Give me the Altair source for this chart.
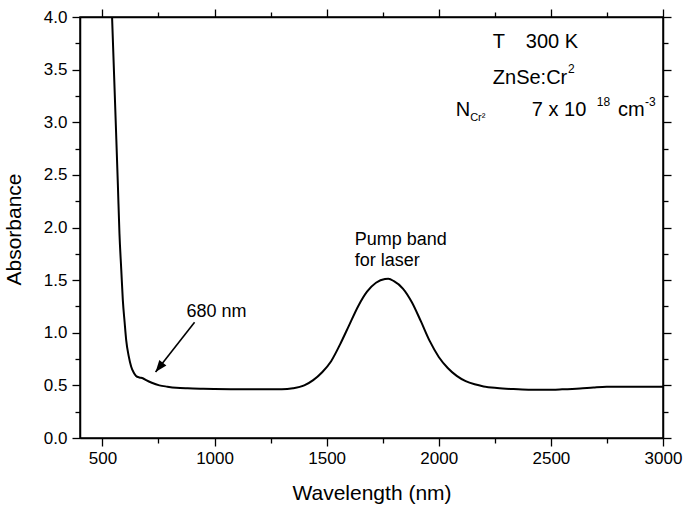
import altair as alt
import pandas as pd

# ---- data ----
wavelength = [543, 552, 561, 569, 576, 584, 591, 599, 606, 617, 628, 640, 650, 665, 680,
              695, 720, 754, 790, 829, 880, 950, 1000, 1100, 1200, 1300, 1350, 1400, 1440,
              1480, 1520, 1560, 1600, 1640, 1680, 1720, 1760, 1775, 1800, 1840, 1880, 1920,
              1960, 2000, 2040, 2080, 2120, 2160, 2200, 2260, 2330, 2400, 2481, 2550, 2630,
              2690, 2749, 2850, 2950, 3000]
absorbance = [4.0, 3.45, 2.9, 2.4, 1.94, 1.6, 1.31, 1.1, 0.93, 0.78, 0.68, 0.62, 0.59, 0.575, 0.568,
              0.55, 0.525, 0.50, 0.488, 0.478, 0.472, 0.468, 0.466, 0.463, 0.462, 0.462, 0.472, 0.50, 0.55,
              0.625, 0.73, 0.89, 1.07, 1.25, 1.39, 1.475, 1.51, 1.512, 1.49, 1.42, 1.29, 1.11,
              0.92, 0.77, 0.665, 0.59, 0.54, 0.51, 0.49, 0.475, 0.465, 0.459, 0.458, 0.462, 0.47,
              0.48, 0.487, 0.488, 0.488, 0.488]

x_ticks = [500, 750, 1000, 1250, 1500, 1750, 2000, 2250, 2500, 2750, 3000]
y_ticks = [0.0, 0.25, 0.5, 0.75, 1.0, 1.25, 1.5, 1.75, 2.0, 2.25, 2.5, 2.75, 3.0, 3.25, 3.5, 3.75, 4.0]

ann_text = ["T", "300 K", "ZnSe:Cr", "2", "N", "Cr²", "7 x 10", "18", "cm", "-3",
            "Pump band", "for laser", "680 nm"]
ann_x = [2241, 2388, 2241, 2576, 2076, 2140, 2415, 2705, 2799, 2920, 1625, 1625, 875]
ann_y = [3.705, 3.705, 3.363, 3.468, 3.059, 3.012, 3.059, 3.154, 3.059, 3.154, 1.834, 1.634, 1.15]
ann_size = [20, 20, 20, 12, 20, 11, 20, 12, 20, 12, 18, 18, 18]

arrow_tail = (911, 1.10)
arrow_tip = (737, 0.627)

FONT = "Liberation Sans"

df = pd.DataFrame({"wl": wavelength, "A": absorbance})
ann = pd.DataFrame({"text": ann_text, "x": ann_x, "y": ann_y, "size": ann_size})
arr = pd.DataFrame({"x": [arrow_tail[0]], "y": [arrow_tail[1]],
                    "x2": [arrow_tip[0]], "y2": [arrow_tip[1]]})

xscale = alt.Scale(domain=[400, 3000], nice=False, zero=False)
yscale = alt.Scale(domain=[0, 4], nice=False, zero=True)

x_tick_size = {"condition": {"test": "datum.value % 500 === 0", "value": 8}, "value": 5}
y_tick_size = {"condition": {"test": "(datum.value * 2) % 1 === 0", "value": 8}, "value": 5}

x_axis = alt.Axis(values=x_ticks, tickSize=x_tick_size,
                  labelExpr="datum.value % 500 === 0 ? datum.label : ''",
                  format="d", title="Wavelength (nm)", titleFontSize=21,
                  titleFontWeight="normal", titleY=55, titleBaseline="middle",
                  labelFontSize=17, labelPadding=4, grid=False,
                  domainColor="black", domainWidth=1.5, tickColor="black", tickWidth=1.3,
                  labelColor="black", titleColor="black", labelFont=FONT, titleFont=FONT,
                  labelFlush=False, labelOverlap=False)
y_axis = alt.Axis(values=y_ticks, tickSize=y_tick_size,
                  labelExpr="(datum.value * 2) % 1 === 0 ? format(datum.value, '.1f') : ''",
                  title="Absorbance", titleFontSize=21, titleFontWeight="normal",
                  titleX=-66, titleY=212, titleAngle=-90, titleBaseline="middle",
                  labelFontSize=17, labelPadding=5, grid=False,
                  domainColor="black", domainWidth=1.5, tickColor="black", tickWidth=1.3,
                  labelColor="black", titleColor="black", labelFont=FONT, titleFont=FONT,
                  labelFlush=False, labelOverlap=False)

x_axis_top = alt.Axis(orient="top", values=x_ticks, tickSize=x_tick_size, labels=False,
                      title=None, grid=False, domainColor="black", domainWidth=1.5,
                      tickColor="black", tickWidth=1.3)
y_axis_right = alt.Axis(orient="right", values=y_ticks, tickSize=y_tick_size, labels=False,
                        title=None, grid=False, domainColor="black", domainWidth=1.5,
                        tickColor="black", tickWidth=1.3)

line = alt.Chart(df).mark_line(color="black", strokeWidth=2, interpolate="monotone", clip=True).encode(
    x=alt.X("wl:Q", scale=xscale, axis=x_axis),
    y=alt.Y("A:Q", scale=yscale, axis=y_axis),
)

mirror = alt.Chart(df).mark_point(opacity=0).encode(
    x=alt.X("wl:Q", scale=xscale, axis=x_axis_top),
    y=alt.Y("A:Q", scale=yscale, axis=y_axis_right),
)

texts = alt.Chart(ann).mark_text(align="left", baseline="alphabetic", font=FONT, color="black").encode(
    x=alt.X("x:Q", scale=xscale, axis=None),
    y=alt.Y("y:Q", scale=yscale, axis=None),
    text="text:N",
    size=alt.Size("size:Q", scale=None, legend=None),
)

shaft = alt.Chart(arr).mark_rule(color="black", strokeWidth=1.6).encode(
    x=alt.X("x:Q", scale=xscale, axis=None), y=alt.Y("y:Q", scale=yscale, axis=None),
    x2="x2:Q", y2="y2:Q",
)

head = alt.Chart(arr).mark_point(shape="M0,0L-0.38,1L0.38,1Z", filled=True, color="black",
                                 opacity=1, size=560, angle=218).encode(
    x=alt.X("x2:Q", scale=xscale, axis=None), y=alt.Y("y2:Q", scale=yscale, axis=None),
)

chart = alt.layer(line, mirror, texts, shaft, head).resolve_axis(
    x="independent", y="independent"
).properties(
    width=583, height=421,
    autosize=alt.AutoSizeParams(type="none"),
    padding={"left": 80, "top": 17, "right": 25, "bottom": 72},
    background="white",
).configure_view(stroke="black", strokeWidth=1.5)

chart.save("out.html", embed_options={"renderer": "svg", "actions": False})
